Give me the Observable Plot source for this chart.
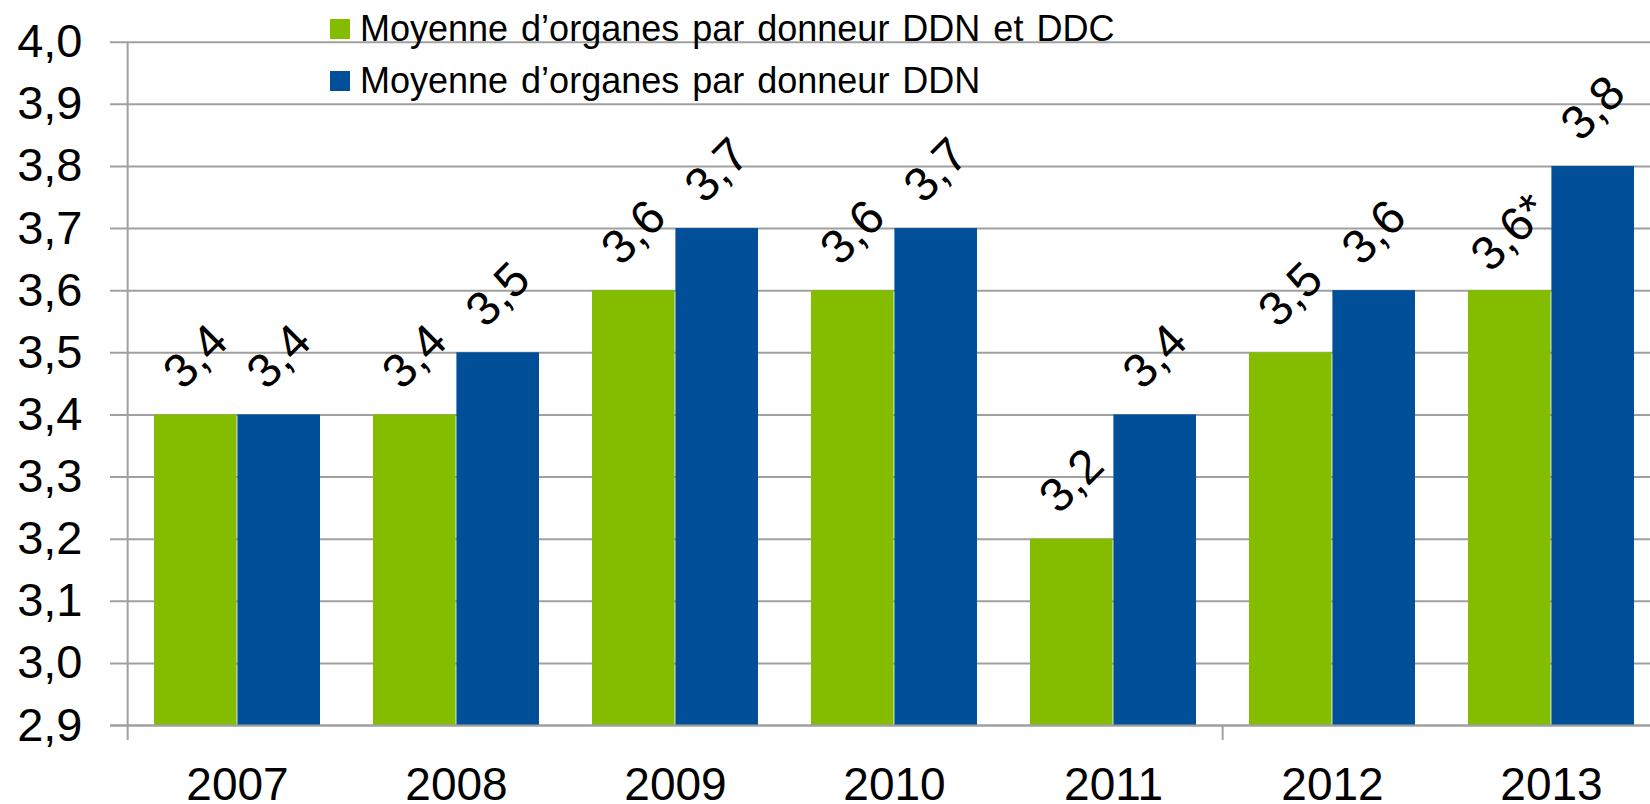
<!DOCTYPE html>
<html>
<head>
<meta charset="utf-8">
<script src="https://cdn.jsdelivr.net/npm/d3@7"></script>
<script src="https://cdn.jsdelivr.net/npm/@observablehq/plot@0.6"></script>
<style>
  html, body { margin: 0; padding: 0; background: #fff; }
  body { font-family: "Liberation Sans", Arial, sans-serif; }
  #wrap { position: relative; width: 1650px; height: 804px; overflow: hidden; }
  #legend { position: absolute; left: 330px; top: 3px; font-size: 36px; color: #000; word-spacing: 3px; }
  .item { display: flex; align-items: center; height: 52px; line-height: 52px; white-space: nowrap; }
  .sw { width: 20px; height: 20px; margin-right: 10px; flex: none; }
</style>
</head>
<body>
<div id="wrap">
  <div id="chart"></div>
  <div id="legend"></div>
</div>
<script>
// ---- data ----
const years = ["2007", "2008", "2009", "2010", "2011", "2012", "2013"];
const seriesNames = [
  "Moyenne d’organes par donneur DDN et DDC",
  "Moyenne d’organes par donneur DDN"
];
const valuesDDNetDDC = [3.4, 3.4, 3.6, 3.6, 3.2, 3.5, 3.6];
const valuesDDN = [3.4, 3.5, 3.7, 3.7, 3.4, 3.6, 3.8];
const labelsDDNetDDC = ["3,4", "3,4", "3,6", "3,6", "3,2", "3,5", "3,6*"];
const labelsDDN = ["3,4", "3,5", "3,7", "3,7", "3,4", "3,6", "3,8"];
const yTicks = [2.9, 3.0, 3.1, 3.2, 3.3, 3.4, 3.5, 3.6, 3.7, 3.8, 3.9, 4.0];
const yDomain = [2.9, 4.0];
const xTickAfter = ["2012"]; // single category tick between 2011 and 2012

// ---- styles ----
const colors = ["#84bd00", "#024f99"];
const gridColor = "#a0a0a0";
const halfBar = 83.4;     // half of the pair width
const halfStep = 109.85;  // half of the category step

const green = years.map((y, i) => ({year: y, value: valuesDDNetDDC[i], label: labelsDDNetDDC[i]}));
const blue = years.map((y, i) => ({year: y, value: valuesDDN[i], label: labelsDDN[i]}));

const fmt = d => d.toFixed(1).replace(".", ",");

const chart = Plot.plot({
  width: 1650,
  height: 804,
  marginLeft: 125,
  marginRight: 0,
  marginTop: 41.7,
  marginBottom: 79,
  style: {fontFamily: "'Liberation Sans', Arial, sans-serif", fontSize: "46px", color: "#000", background: "#fff", overflow: "visible"},
  x: {domain: years, range: [125, 1663], paddingInner: 0.241, paddingOuter: 0.1205, axis: null, label: null},
  y: {domain: yDomain, axis: null, label: null},
  marks: [
    Plot.ruleY(yTicks, {stroke: gridColor, strokeWidth: 2, insetLeft: -15}),
    Plot.barY(green, {x: "year", y1: yDomain[0], y2: "value", fill: colors[0], insetRight: halfBar}),
    Plot.barY(blue, {x: "year", y1: yDomain[0], y2: "value", fill: colors[1], insetLeft: halfBar}),
    Plot.ruleY([yDomain[0]], {stroke: gridColor, strokeWidth: 2, insetLeft: -15}),
    Plot.ruleX([years[0]], {x: d => d, dx: -halfStep, stroke: gridColor, strokeWidth: 2, insetBottom: -15}),
    Plot.ruleX(xTickAfter, {x: d => d, dx: -halfStep, y1: yDomain[0], y2: yDomain[0], insetBottom: -15, stroke: gridColor, strokeWidth: 2}),
    Plot.axisY(yTicks, {tickFormat: fmt, tickSize: 0, tickPadding: 43, fontSize: 47, label: null}),
    Plot.axisX(years, {tickSize: 0, tickPadding: 41.7, fontSize: 46, label: null}),
    Plot.text(green, {x: "year", y: "value", text: "label", dx: -halfBar / 2, dy: -58, rotate: -45, fontSize: 48, textAnchor: "middle", lineAnchor: "middle", fill: "#000"}),
    Plot.text(blue, {x: "year", y: "value", text: "label", dx: halfBar / 2, dy: -58, rotate: -45, fontSize: 48, textAnchor: "middle", lineAnchor: "middle", fill: "#000"})
  ]
});
document.getElementById("chart").appendChild(chart);

const legend = document.getElementById("legend");
seriesNames.forEach((name, i) => {
  const item = document.createElement("div");
  item.className = "item";
  const sw = document.createElement("span");
  sw.className = "sw";
  sw.style.background = colors[i];
  const t = document.createElement("span");
  t.textContent = name;
  item.appendChild(sw);
  item.appendChild(t);
  legend.appendChild(item);
});
</script>
</body>
</html>
